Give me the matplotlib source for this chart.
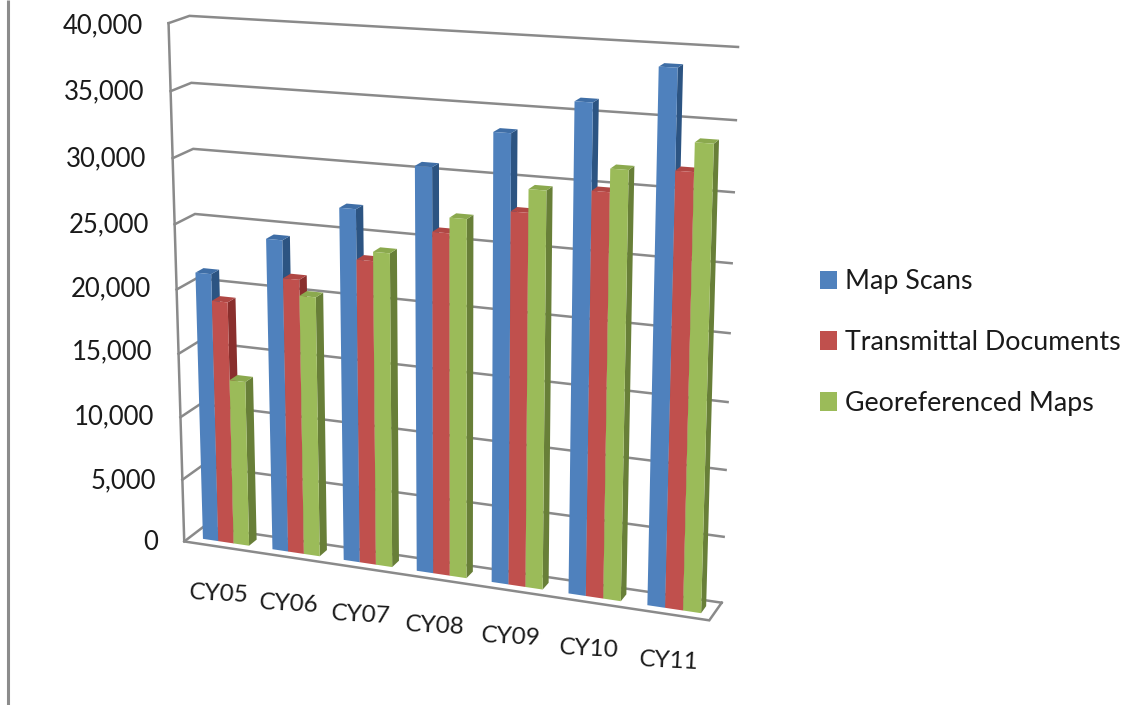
import numpy as np
import matplotlib
matplotlib.use("Agg")
import matplotlib.pyplot as plt
from matplotlib.patches import Polygon, Patch

categories = ["CY05", "CY06", "CY07", "CY08", "CY09", "CY10", "CY11"]
map_scans = [21150, 24270, 27100, 30640, 33500, 36050, 38800]
transmittal = [19100, 21400, 23360, 25940, 27930, 29880, 31750]
georef = [13050, 20200, 24060, 27090, 29630, 31540, 33800]
series_names = ["Map Scans", "Transmittal Documents", "Georeferenced Maps"]
yticks = list(range(0, 40001, 5000))

FONT = "Lato"
TXT = "#1a1a1a"
GRID = "#8a8a8a"
front_col = ["#4F81BD", "#C0504D", "#9BBB59"]
side_col = ["#2C5482", "#8A2F2D", "#687F38"]
top_col = ["#3F6EA6", "#B04744", "#8BA94E"]

# camera calibration: (category pos, value, depth) -> picture pixel
calib = [((0, 0, 0), (185, 541)), ((0, 40000, 0), (168, 23)),
         ((0, 0, 1), (203, 527)), ((0, 40000, 1), (190, 16)),
         ((7, 0, 1), (722, 602)), ((7, 40000, 1), (738, 47)),
         ((7, 0, 0), (709, 621))]
A = []
for (x, y, z), (u, v) in calib:
    p = [x, y / 40000, z, 1]
    A.append(p + [0, 0, 0, 0] + [-u * c for c in p])
    A.append([0, 0, 0, 0] + p + [-v * c for c in p])
P = np.linalg.svd(np.array(A, float))[2][-1].reshape(3, 4)


def proj(x, y, z):
    h = P @ np.array([x, y / 40000, z, 1.0])
    return h[0] / h[2], h[1] / h[2]


fig = plt.figure(figsize=(11.36, 7.05), dpi=100, facecolor="white")
ax = fig.add_axes([0, 0, 1, 1])
ax.set_xlim(0, 1136)
ax.set_ylim(705, 0)
ax.axis("off")

# page edge at left
ax.plot([7.5, 7.5], [0, 705], color="#8c8c8c", lw=2.2, solid_capstyle="butt")


def line(pts, **kw):
    ax.plot(*zip(*pts), color=GRID, lw=1.8, solid_joinstyle="miter", **kw)


for t in yticks:
    line([proj(0, t, 0), proj(0, t, 1), proj(7, t, 1)], zorder=1)
line([proj(0, 40000, 0), proj(0, 0, 0), proj(7, 0, 0), proj(7, 0, 1)], zorder=1)

ytick_px = [542, 481, 417, 352, 289, 225, 159, 92, 26]
for t, py in zip(yticks, ytick_px):
    ax.text(proj(0, t, 0)[0] - 26, py, f"{t:,}", ha="right", va="center", fontsize=18.5,
            family=FONT, color=TXT)

bw = 1 / 4.5
z0, z1 = 0.3, 0.7
values = [map_scans, transmittal, georef]
for i in range(len(categories)):
    for s in range(3):
        v = values[s][i]
        x0 = i + bw * (0.75 + s) + 0.02
        x1 = x0 + bw
        ax.add_patch(Polygon([proj(x1, 0, z0), proj(x1, 0, z1), proj(x1, v, z1), proj(x1, v, z0)],
                             fc=side_col[s], ec="none", zorder=3))
        ax.add_patch(Polygon([proj(x0, v, z0), proj(x1, v, z0), proj(x1, v, z1), proj(x0, v, z1)],
                             fc=top_col[s], ec="none", zorder=3))
        ax.add_patch(Polygon([proj(x0, 0, z0), proj(x1, 0, z0), proj(x1, v, z0), proj(x0, v, z0)],
                             fc=front_col[s], ec="none", zorder=3))
    px, py = proj(i + 0.5, 0, 0)
    ax.text(px, py + 47, categories[i], ha="center", va="center", rotation=-3,
            rotation_mode="anchor", fontsize=17.5, family=FONT, color=TXT)

handles = [Patch(fc=c, ec="none", label=n) for c, n in zip(front_col, series_names)]
ax.legend(handles=handles, loc="center left", bbox_to_anchor=(820, 342.5),
          bbox_transform=ax.transData, frameon=False,
          prop={"family": FONT, "size": 19.3}, labelcolor=TXT, handlelength=0.635,
          handleheight=0.67, handletextpad=0.3, labelspacing=1.336,
          borderpad=0, borderaxespad=0)

fig.savefig("out.png", dpi=100, facecolor="white")
